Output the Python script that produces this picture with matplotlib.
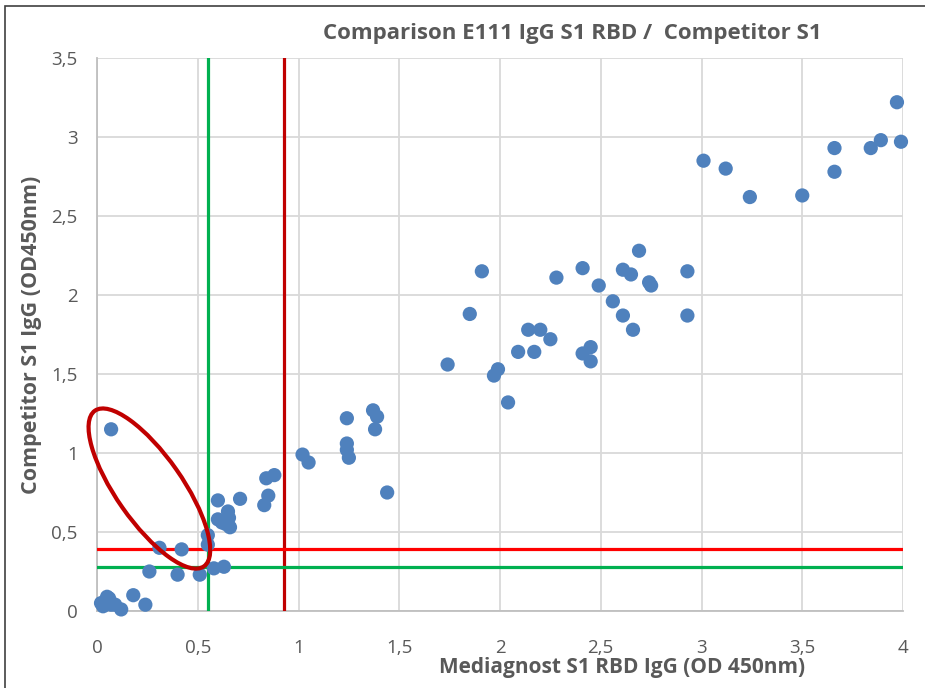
import matplotlib
matplotlib.use("Agg")
import matplotlib.pyplot as plt
from matplotlib.patches import Ellipse, Rectangle
from matplotlib.ticker import FuncFormatter
import matplotlib.transforms as mtransforms

# ---------------- Data ----------------
mediagnost = [
    0.03, 0.05, 0.06, 0.04, 0.07, 0.09, 0.02, 0.12, 0.18, 0.24,
    0.07, 0.26, 0.31, 0.40, 0.42, 0.51, 0.58, 0.63, 0.55, 0.55,
    0.60, 0.60, 0.65, 0.655, 0.62, 0.64, 0.71, 0.66, 0.83, 0.84,
    0.85, 0.88, 1.02, 1.05, 1.24, 1.24, 1.24, 1.25, 1.37, 1.39,
    1.38, 1.44, 1.74, 1.85, 1.91, 1.97, 1.99, 2.04, 2.09, 2.14,
    2.17, 2.20, 2.25, 2.28, 2.41, 2.41, 2.45, 2.45, 2.49, 2.56,
    2.61, 2.61, 2.65, 2.66, 2.69, 2.74, 2.75, 2.93, 2.93, 3.01,
    3.12, 3.24, 3.50, 3.66, 3.66, 3.84, 3.89, 3.97, 3.99,
]
competitor = [
    0.03, 0.09, 0.08, 0.04, 0.04, 0.04, 0.05, 0.01, 0.10, 0.04,
    1.15, 0.25, 0.40, 0.23, 0.39, 0.23, 0.27, 0.28, 0.48, 0.42,
    0.58, 0.70, 0.63, 0.59, 0.56, 0.55, 0.71, 0.53, 0.67, 0.84,
    0.73, 0.86, 0.99, 0.94, 1.22, 1.06, 1.02, 0.97, 1.27, 1.23,
    1.15, 0.75, 1.56, 1.88, 2.15, 1.49, 1.53, 1.32, 1.64, 1.78,
    1.64, 1.78, 1.72, 2.11, 2.17, 1.63, 1.67, 1.58, 2.06, 1.96,
    2.16, 1.87, 2.13, 1.78, 2.28, 2.08, 2.06, 1.87, 2.15, 2.85,
    2.80, 2.62, 2.63, 2.93, 2.78, 2.93, 2.98, 3.22, 2.97,
]

green_x_cutoff = 0.55
red_x_cutoff = 0.93
red_y_cutoff = 0.39
green_y_cutoff = 0.28

TEXT = "#595959"
DOT = "#4f81bd"
GRID = "#d9d9d9"

plt.rcParams["font.family"] = ["Open Sans", "DejaVu Sans"]

fig = plt.figure(figsize=(9.25, 6.88), dpi=100)
ax = fig.add_axes([97 / 925, 1 - 611 / 688, (903 - 97) / 925, (611 - 58) / 688])

ax.scatter(mediagnost, competitor, s=105, color=DOT, edgecolors="none",
           zorder=4, clip_on=False)

ax.axvline(green_x_cutoff, color="#00b050", lw=2.3, zorder=3)
ax.axvline(red_x_cutoff, color="#c00000", lw=2.3, zorder=3)
ax.axhline(red_y_cutoff, color="#ff0000", lw=2.3, zorder=3)
ax.axhline(green_y_cutoff, color="#00b050", lw=2.3, zorder=3)

# red ellipse, drawn in inches around a data-space centre
ell_tr = fig.dpi_scale_trans + mtransforms.ScaledTranslation(0.26, 0.775, ax.transData)
ax.add_patch(Ellipse((0, 0), 1.9, 0.66, angle=-55, transform=ell_tr,
                     fill=False, edgecolor="#c00000", lw=3.0, zorder=5, clip_on=False))

ax.set_xlim(0, 4)
ax.set_ylim(0, 3.5)
ax.set_xticks([0, 0.5, 1, 1.5, 2, 2.5, 3, 3.5, 4])
ax.set_yticks([0, 0.5, 1, 1.5, 2, 2.5, 3, 3.5])
fmt = FuncFormatter(lambda v, p: f"{v:g}".replace(".", ","))
ax.xaxis.set_major_formatter(fmt)
ax.yaxis.set_major_formatter(fmt)
ax.tick_params(length=0, labelsize=13.5, colors=TEXT)
ax.tick_params(axis="x", pad=20)
ax.tick_params(axis="y", pad=14)

ax.grid(True, color=GRID, lw=1.3, zorder=0)
ax.set_axisbelow(True)
for side in ["top", "right"]:
    ax.spines[side].set_visible(False)
for side in ["left", "bottom"]:
    ax.spines[side].set_color("#bfbfbf")
    ax.spines[side].set_linewidth(1.3)

fig.text(572 / 925, 1 - 33 / 688, "Comparison E111 IgG S1 RBD /  Competitor S1",
         ha="center", va="center", fontsize=16, fontweight="bold", color=TEXT)
fig.text(622 / 925, 1 - 667 / 688, "Mediagnost S1 RBD IgG (OD 450nm)",
         ha="center", va="center", fontsize=15, fontweight="bold", color=TEXT)
fig.text(32 / 925, 1 - 335 / 688, "Competitor S1 IgG (OD450nm)", rotation=90,
         ha="center", va="center", fontsize=15.5, fontweight="bold", color=TEXT)

# outer chart frame
fig.patches.append(Rectangle((5 / 925, -0.02), 1.0, 1 - 6 / 688 + 0.02,
                             transform=fig.transFigure, fill=False,
                             edgecolor="#404040", lw=1.2))

fig.savefig("out.png", dpi=100)
